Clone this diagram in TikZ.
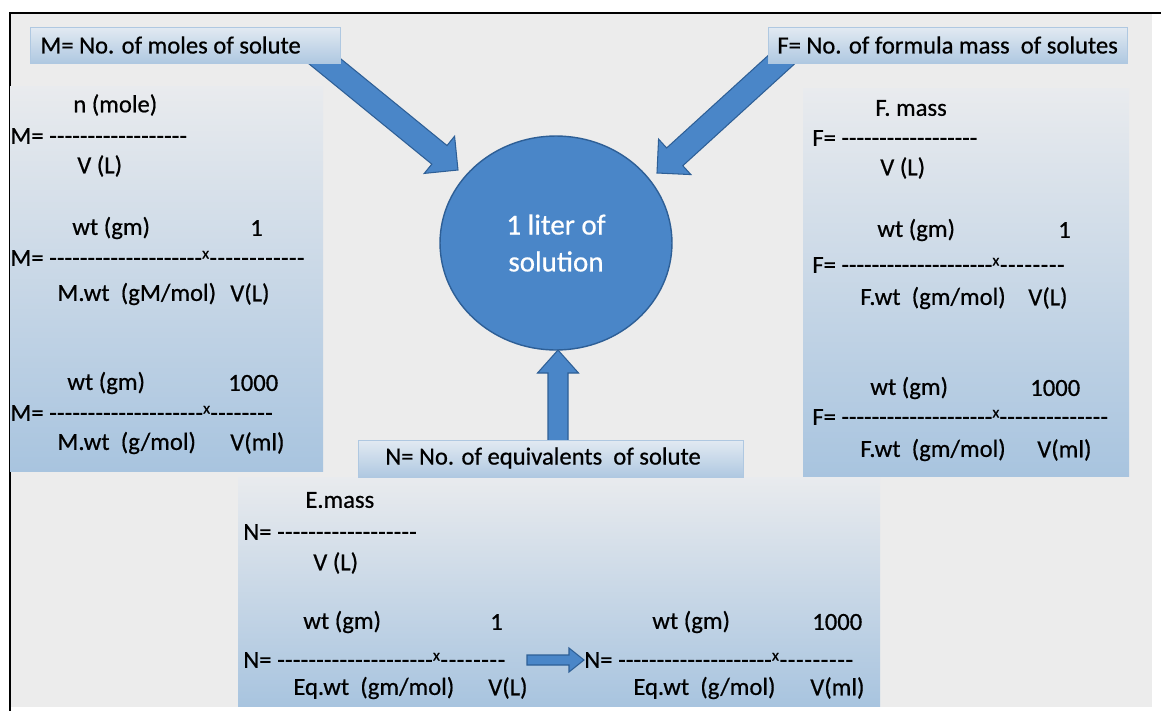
\documentclass[tikz,border=0pt]{standalone}
\usepackage{fontspec}
\setmainfont{Carlito}[FakeBold=0.6]
\usetikzlibrary{calc,shapes.geometric}

\definecolor{bggray}{HTML}{ECECEC}
\definecolor{solblue}{HTML}{4A86C8}
\definecolor{soledge}{HTML}{2E5F96}
\definecolor{boxtop}{HTML}{E9EBEE}
\definecolor{boxbot}{HTML}{A8C4DF}
\definecolor{ttltop}{HTML}{E2EAF2}
\definecolor{ttlbot}{HTML}{AFC8E1}

\newdimen\pxu \pxu=0.02cm
\newcommand\dfill[1]{\hbox to #1\pxu{\xleaders\hbox{-}\hfill}}
\newcommand\tms{\raisebox{.3em}{\small x}}
% name, tail, tip, half shaft, half head, head length
\newcommand\blockarrow[6]{%
  \coordinate (#1b) at ($(#3)!#6!(#2)$);
  \filldraw[blockarr] ($(#2)!#4!90:(#3)$) -- ($(#1b)!#4!-90:(#2)$) -- ($(#1b)!#5!-90:(#2)$)
    -- (#3) -- ($(#1b)!#5!90:(#2)$) -- ($(#1b)!#4!90:(#2)$) -- ($(#2)!#4!-90:(#3)$) -- cycle;}

\begin{document}
\begin{tikzpicture}[x=0.02cm,y=-0.02cm,
    txt/.style={anchor=west,inner sep=0pt,font=\fontsize{14}{17}\selectfont},
    ttlbox/.style={top color=ttltop,bottom color=ttlbot,draw=ttlbot,line width=0.3pt},
    formbox/.style={top color=boxtop,bottom color=boxbot},
    blockarr/.style={fill=solblue,draw=soledge,line width=0.6pt,line join=miter}]
    \useasboundingbox (0,0) rectangle (1161,711);
    \fill[white] (0,0) rectangle (1161,711);
    \fill[bggray] (10,13) rectangle (1152,707);
    \draw[line width=1.2pt] (1161,13) -- (10,13) -- (10,711);

    \path[formbox] (10,86) rectangle (323,471);
    \path[formbox] (803,88) rectangle (1129,476);
    \path[formbox] (238,477) rectangle (880,706);

    \node[ellipse,fill=solblue,draw=soledge,line width=0.8pt,minimum width=4.64cm,minimum height=4.28cm,
        text=white,align=center,font=\fontsize{16.5}{21}\selectfont] (sol) at (556,243) {1 liter of\\solution};

    \coordinate (mtail) at (311,50);
    \coordinate (mtip) at (458,170);
    \coordinate (ftail) at (792,50);
    \coordinate (ftip) at (657,173);
    \coordinate (ntail) at (558,450);
    \coordinate (ntip) at (558,350);
    \blockarrow{ma}{mtail}{mtip}{0.24cm}{0.48cm}{0.48cm}
    \blockarrow{fa}{ftail}{ftip}{0.24cm}{0.48cm}{0.48cm}
    \blockarrow{na}{ntail}{ntip}{0.2cm}{0.41cm}{0.46cm}

    \path[ttlbox] (30,27) rectangle (340,63);
    \path[ttlbox] (768,27) rectangle (1127,63);
    \path[ttlbox] (358,440) rectangle (743,477);
    \node[txt] (mtitle) at (40,45) {M= No. of moles of solute};
    \node[txt] (ftitle) at (777,45) {F= No. of formula mass~ of solutes};
    \node[txt] (ntitle) at (385,458) {N= No. of equivalents~ of solute};

    \node[txt] (mn1) at (73,105) {n (mole)};
    \node[txt] (meq1) at (10,136) {M= \dfill{138}};
    \node[txt] (md1) at (77,166) {V (L)};
    \node[txt] (mn2) at (72,228) {wt (gm)};
    \node[txt] (mo2) at (250,228) {1};
    \node[txt] (meq2) at (10,258) {M= \dfill{153}\tms\dfill{96}};
    \node[txt] (md2) at (57,294) {M.wt~~(gM/mol)};
    \node[txt] (mv2) at (230,294) {V(L)};
    \node[txt] (mn3) at (67,383) {wt (gm)};
    \node[txt] (mo3) at (228,383) {1000};
    \node[txt] (meq3) at (10,413) {M= \dfill{154}\tms\dfill{63}};
    \node[txt] (md3) at (57,443) {M.wt~~(g/mol)};
    \node[txt] (mv3) at (230,443) {V(ml)};

    \node[txt] (fn1) at (875,108) {F. mass};
    \node[txt] (feq1) at (812,138) {F= \dfill{136}};
    \node[txt] (fd1) at (880,168) {V (L)};
    \node[txt] (fn2) at (877,230) {wt (gm)};
    \node[txt] (fo2) at (1058,230) {1};
    \node[txt] (feq2) at (812,265) {F= \dfill{151}\tms\dfill{66}};
    \node[txt] (fd2) at (860,298) {F.wt~~(gm/mol)};
    \node[txt] (fv2) at (1028,298) {V(L)};
    \node[txt] (fn3) at (870,388) {wt (gm)};
    \node[txt] (fo3) at (1030,388) {1000};
    \node[txt] (feq3) at (812,417) {F= \dfill{151}\tms\dfill{109}};
    \node[txt] (fd3) at (860,450) {F.wt~~(gm/mol)};
    \node[txt] (fv3) at (1037,450) {V(ml)};

    \node[txt] (nn1) at (305,500) {E.mass};
    \node[txt] (neq1) at (243,532) {N= \dfill{140}};
    \node[txt] (nd1) at (313,563) {V (L)};
    \node[txt] (nn2) at (303,622) {wt (gm)};
    \node[txt] (no2) at (490,622) {1};
    \node[txt] (neq2) at (243,660) {N= \dfill{156}\tms\dfill{66}};
    \node[txt] (nd2) at (293,688) {Eq.wt~~(gm/mol)};
    \node[txt] (nv2) at (488,688) {V(L)};
    \node[txt] (neq3) at (584,660) {N= \dfill{154}\tms\dfill{75}};
    \node[txt] (nn3) at (652,622) {wt (gm)};
    \node[txt] (no3) at (812,622) {1000};
    \node[txt] (nd3) at (633,688) {Eq.wt~~(g/mol)};
    \node[txt] (nv3) at (810,688) {V(ml)};

    \coordinate (stail) at (527,660);
    \blockarrow{sa}{stail}{neq3.west}{0.1cm}{0.24cm}{0.3cm}
\end{tikzpicture}
\end{document}
